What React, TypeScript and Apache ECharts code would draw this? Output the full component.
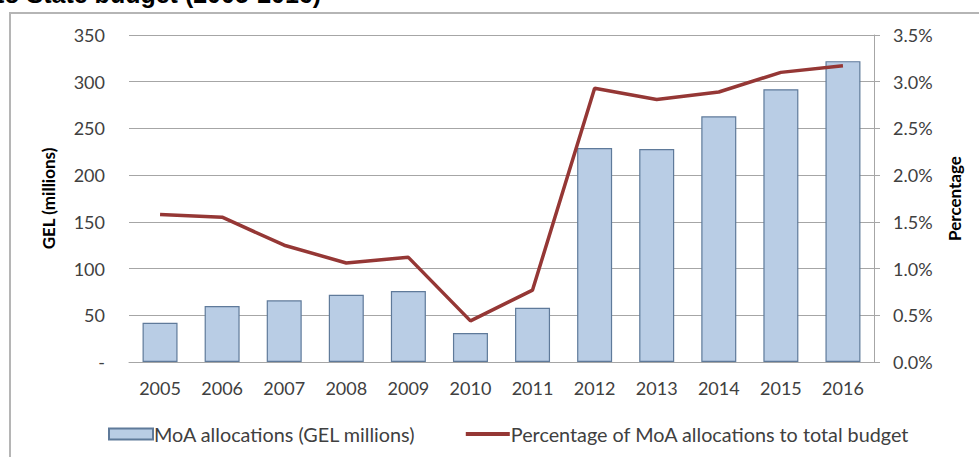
import React, { useEffect, useRef } from "react";
import * as echarts from "echarts";

const years = ["2005", "2006", "2007", "2008", "2009", "2010", "2011", "2012", "2013", "2014", "2015", "2016"];
const allocations = [42, 60, 66, 72, 76, 31, 58, 229, 228, 263, 292, 322];
const percentShare = [1.58, 1.55, 1.25, 1.06, 1.12, 0.44, 0.77, 2.93, 2.81, 2.89, 3.1, 3.17];
const barName = "MoA allocations (GEL millions)";
const lineName = "Percentage of MoA allocations to total budget";
const leftAxisName = "GEL (millions)";
const rightAxisName = "Percentage";
const titleFragment = "to State budget (2005-2016)";

const FONT = "Lato, 'Open Sans', sans-serif";
const TXT = "#404040";

export default function App() {
  const ref = useRef<HTMLDivElement>(null);
  useEffect(() => {
    if (!ref.current) return;
    const chart = echarts.init(ref.current, undefined, { renderer: "svg" });
    chart.setOption({
      animation: false,
      backgroundColor: "#ffffff",
      textStyle: { fontFamily: FONT },
      graphic: [
        {
          type: "rect",
          shape: { x: 10, y: 13, width: 1000, height: 500 },
          style: { fill: "none", stroke: "#b5b5b5", lineWidth: 2 },
          silent: true,
        },
        {
          type: "text",
          left: -4,
          top: -19,
          style: { text: titleFragment, fontFamily: "Arial, 'Liberation Sans', sans-serif", fontWeight: "bold", fontSize: 25, fill: "#000" },
          silent: true,
        },
      ],
      grid: { left: 129, right: 105, top: 35, bottom: 95 },
      legend: {
        left: 108,
        top: 424,
        padding: 0,
        itemWidth: 44,
        itemHeight: 11,
        itemGap: 48,
        textStyle: { color: TXT, fontSize: 19.8, fontFamily: FONT, padding: [0, 0, 0, -4] },
        data: [
          { name: barName, icon: "rect" },
          { name: lineName, itemStyle: { opacity: 0 }, lineStyle: { width: 4, color: "#953735" } },
        ],
      },
      xAxis: {
        type: "category",
        data: years,
        axisLine: { lineStyle: { color: "#a6a6a6", width: 1 } },
        axisTick: { show: false },
        axisLabel: { color: TXT, fontSize: 18, fontFamily: FONT, margin: 17 },
      },
      yAxis: [
        {
          type: "value",
          min: 0,
          max: 350,
          interval: 50,
          name: leftAxisName,
          nameLocation: "middle",
          nameGap: 72,
          nameTextStyle: { color: "#000", fontWeight: "bold", fontSize: 17, fontFamily: FONT },
          axisLine: { show: false },
          axisTick: { show: false },
          axisLabel: {
            color: TXT,
            fontSize: 18,
            fontFamily: FONT,
            margin: 24,
            formatter: (v: number) => (v === 0 ? "-" : String(v)),
          },
          splitLine: { lineStyle: { color: "#a6a6a6", width: 1 } },
        },
        {
          type: "value",
          min: 0,
          max: 3.5,
          interval: 0.5,
          position: "right",
          name: rightAxisName,
          nameLocation: "middle",
          nameGap: 72,
          nameTextStyle: { color: "#000", fontWeight: "bold", fontSize: 17, fontFamily: FONT },
          axisLine: { show: true, lineStyle: { color: "#a6a6a6", width: 1 } },
          axisTick: { show: true, length: 6, lineStyle: { color: "#a6a6a6" } },
          axisLabel: {
            color: TXT,
            fontSize: 18,
            fontFamily: FONT,
            margin: 19,
            formatter: (v: number) => v.toFixed(1) + "%",
          },
          splitLine: { show: false },
        },
      ],
      series: [
        {
          name: barName,
          type: "bar",
          data: allocations,
          barWidth: 35,
          itemStyle: { color: "#b9cde5", borderColor: "#5f7a9a", borderWidth: 1.2 },
          z: 2,
        },
        {
          name: lineName,
          type: "line",
          yAxisIndex: 1,
          data: percentShare,
          symbol: "none",
          lineStyle: { color: "#953735", width: 3.5 },
          itemStyle: { color: "#953735" },
          z: 3,
        },
      ],
    });
    return () => chart.dispose();
  }, []);
  return (
    <div
      ref={ref}
      style={{ position: "fixed", left: 0, top: 0, width: 979, height: 457 }}
    />
  );
}
